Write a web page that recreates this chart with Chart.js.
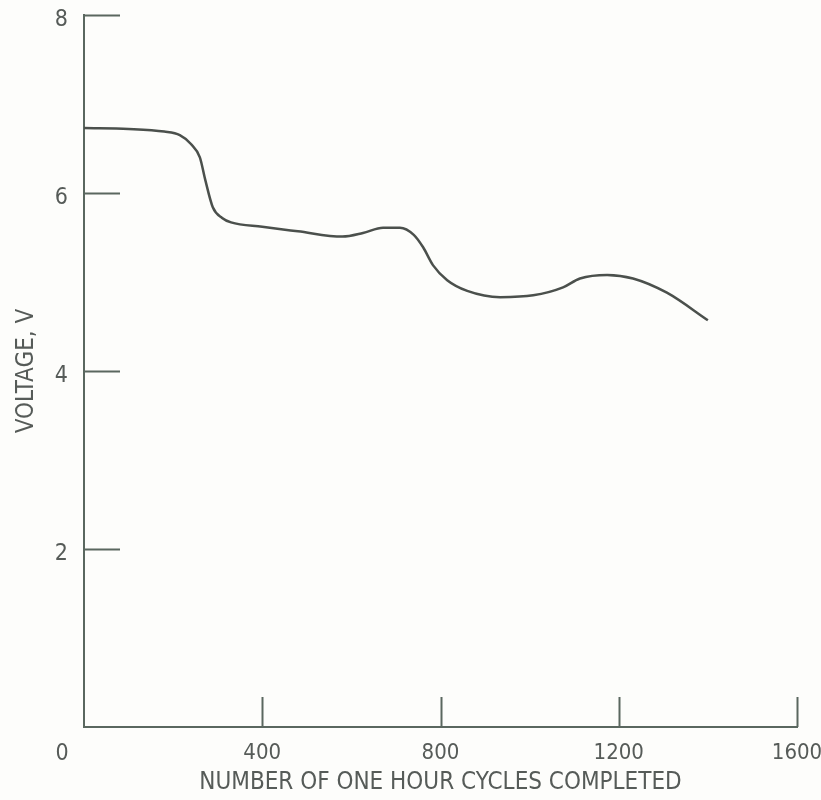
<!DOCTYPE html>
<html>
<head>
<meta charset="utf-8">
<script src="https://cdn.jsdelivr.net/npm/chart.js@4"></script>
<style>
  html, body { margin: 0; padding: 0; background: #fdfdfb; }
  #wrap { width: 821px; height: 800px; }
</style>
</head>
<body>
<div id="wrap"><canvas id="chart" width="821" height="800"></canvas></div>
<script>
// cycles completed vs battery voltage
const cycles = [0, 100, 180, 215, 240, 260, 272, 289, 310, 330, 400, 480, 580, 626, 671, 709, 740, 761, 783, 815, 860, 934, 1008, 1075, 1113, 1174, 1232, 1308, 1400];
const voltage = [6.73, 6.72, 6.69, 6.65, 6.55, 6.40, 6.15, 5.84, 5.72, 5.67, 5.62, 5.57, 5.51, 5.55, 5.61, 5.61, 5.53, 5.39, 5.19, 5.02, 4.90, 4.83, 4.85, 4.94, 5.04, 5.08, 5.04, 4.88, 4.57];
const xTicks = [0, 400, 800, 1200, 1600];
const yTicks = [0, 2, 4, 6, 8];

const ink = '#5a675f';
const textColor = '#565b58';
const fontFamily = '"DejaVu Sans Condensed", "Liberation Sans Narrow", sans-serif';

// keep the plot box where the page puts it, no label overflow padding
const noOverflow = (scale) => {
  scale.paddingTop = 0;
  scale.paddingBottom = 0;
  scale.paddingLeft = 0;
  scale.paddingRight = 0;
};

// tick marks point inward on this plot, so draw them off the scales
const inwardTicks = {
  id: 'inwardTicks',
  afterDraw(chart) {
    const { ctx, scales: { x, y }, chartArea } = chart;
    ctx.save();
    ctx.strokeStyle = ink;
    ctx.lineWidth = 2;
    yTicks.filter(v => v > 0).forEach(v => {
      const py = Math.round(y.getPixelForValue(v)) + 0.5;
      ctx.beginPath();
      ctx.moveTo(chartArea.left, py);
      ctx.lineTo(chartArea.left + 36, py);
      ctx.stroke();
    });
    xTicks.filter(v => v > 0).forEach(v => {
      const px = Math.round(x.getPixelForValue(v)) + 0.5;
      ctx.beginPath();
      ctx.moveTo(px, chartArea.bottom);
      ctx.lineTo(px, chartArea.bottom - 30);
      ctx.stroke();
    });
    // the shared origin label sits under the y labels
    ctx.fillStyle = textColor;
    ctx.font = '23px ' + fontFamily;
    ctx.textAlign = 'center';
    ctx.textBaseline = 'middle';
    ctx.fillText('0', chartArea.left - 22, chartArea.bottom + 27);
    ctx.restore();
  }
};

new Chart(document.getElementById('chart'), {
  type: 'line',
  data: {
    datasets: [{
      data: cycles.map((c, i) => ({ x: c, y: voltage[i] })),
      borderColor: '#4b504c',
      borderWidth: 2.5,
      pointRadius: 0,
      cubicInterpolationMode: 'monotone',
      fill: false
    }]
  },
  options: {
    responsive: false,
    animation: false,
    layout: { padding: { top: 15, right: 24, left: 0, bottom: 0 } },
    plugins: {
      legend: { display: false },
      tooltip: { enabled: false }
    },
    scales: {
      x: {
        type: 'linear',
        min: 0,
        max: 1600,
        afterBuildTicks: (scale) => { scale.ticks = xTicks.map(v => ({ value: v })); },
        afterFit: (scale) => { scale.height = 73; noOverflow(scale); },
        grid: { display: false, drawTicks: false },
        border: { display: true, color: ink, width: 2 },
        ticks: {
          padding: 13,
          color: textColor,
          font: { family: fontFamily, size: 22 },
          maxRotation: 0,
          callback: (v) => v === 0 ? '' : v
        },
        title: {
          display: true,
          text: 'NUMBER OF ONE HOUR CYCLES COMPLETED',
          color: textColor,
          font: { family: fontFamily, size: 24 },
          padding: { top: 0, bottom: 3 }
        }
      },
      y: {
        type: 'linear',
        min: 0,
        max: 8,
        afterBuildTicks: (scale) => { scale.ticks = yTicks.map(v => ({ value: v })); },
        afterFit: (scale) => { scale.width = 84; noOverflow(scale); },
        grid: { display: false, drawTicks: false },
        border: { display: true, color: ink, width: 2 },
        ticks: {
          padding: 16,
          labelOffset: 5,
          color: textColor,
          font: { family: fontFamily, size: 23 },
          callback: (v) => v === 0 ? '' : v
        },
        title: {
          display: true,
          text: 'VOLTAGE, V',
          color: textColor,
          font: { family: fontFamily, size: 24 },
          padding: { top: 12, bottom: 0 }
        }
      }
    }
  },
  plugins: [inwardTicks]
});
</script>
</body>
</html>
